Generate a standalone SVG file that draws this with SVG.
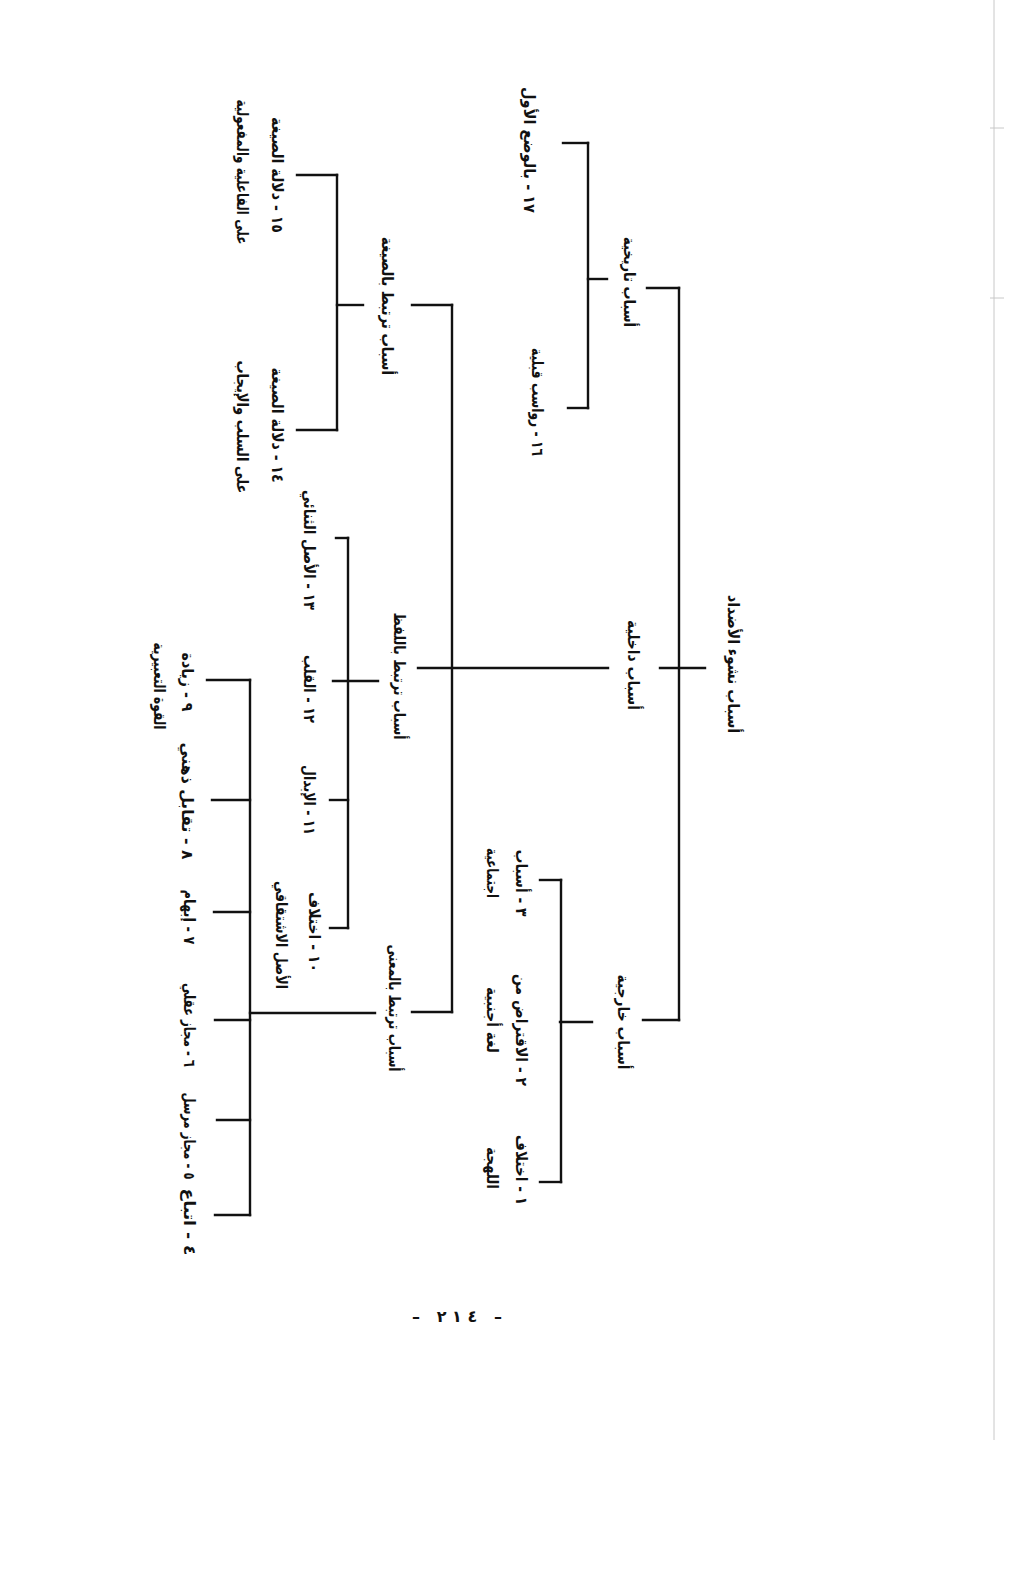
<svg xmlns="http://www.w3.org/2000/svg" width="1024" height="1580" viewBox="0 0 1024 1580">
<style>
.t{font-family:"DejaVu Sans",sans-serif;font-size:16px;font-weight:bold;fill:#111;text-anchor:middle}
.c line{stroke:#111;stroke-width:2.4;stroke-linecap:square}
.edge{stroke:#c8c8c8;stroke-width:1}
</style>
<rect width="1024" height="1580" fill="#fff"/>
<line class="edge" x1="994" y1="0" x2="994" y2="1440"/>
<line class="edge" x1="990" y1="128" x2="1004" y2="128"/>
<line class="edge" x1="990" y1="298" x2="1004" y2="298"/>

<g id="connectors" class="c">
  <line x1="679" y1="288" x2="679" y2="1020"/>
  <line x1="647" y1="288" x2="679" y2="288"/>
  <line x1="643" y1="1020" x2="679" y2="1020"/>
  <line x1="660" y1="668" x2="705" y2="668"/>
  <line x1="588" y1="279" x2="607" y2="279"/>
  <line x1="588" y1="143" x2="588" y2="408"/>
  <line x1="563" y1="143" x2="588" y2="143"/>
  <line x1="568" y1="408" x2="588" y2="408"/>
  <line x1="418" y1="668" x2="608" y2="668"/>
  <line x1="452" y1="305" x2="452" y2="1012"/>
  <line x1="412" y1="305" x2="452" y2="305"/>
  <line x1="412" y1="1012" x2="452" y2="1012"/>
  <line x1="337" y1="305" x2="363" y2="305"/>
  <line x1="337" y1="175" x2="337" y2="430"/>
  <line x1="297" y1="175" x2="337" y2="175"/>
  <line x1="297" y1="430" x2="337" y2="430"/>
  <line x1="333" y1="681" x2="378" y2="681"/>
  <line x1="348" y1="538" x2="348" y2="928"/>
  <line x1="336" y1="538" x2="348" y2="538"/>
  <line x1="330" y1="800" x2="348" y2="800"/>
  <line x1="330" y1="928" x2="348" y2="928"/>
  <line x1="250" y1="1013" x2="375" y2="1013"/>
  <line x1="250" y1="680" x2="250" y2="1215"/>
  <line x1="207" y1="680" x2="250" y2="680"/>
  <line x1="212" y1="800" x2="250" y2="800"/>
  <line x1="214" y1="912" x2="250" y2="912"/>
  <line x1="215" y1="1020" x2="250" y2="1020"/>
  <line x1="217" y1="1120" x2="250" y2="1120"/>
  <line x1="215" y1="1215" x2="250" y2="1215"/>
  <line x1="560" y1="1022" x2="592" y2="1022"/>
  <line x1="561" y1="880" x2="561" y2="1182"/>
  <line x1="540" y1="880" x2="561" y2="880"/>
  <line x1="540" y1="1182" x2="561" y2="1182"/>
</g>

<g id="root"><text class="t" transform="translate(734,664) rotate(90)" dy="0.35em" textLength="138" lengthAdjust="spacingAndGlyphs">أسباب نشوء الأضداد</text></g>
<g id="n-tarikhiya"><text class="t" transform="translate(630,282) rotate(90)" dy="0.35em" textLength="90" lengthAdjust="spacingAndGlyphs">أسباب تاريخية</text></g>
<g id="n-dakhiliya"><text class="t" transform="translate(634,665) rotate(90)" dy="0.35em" textLength="90" lengthAdjust="spacingAndGlyphs">أسباب داخلية</text></g>
<g id="n-kharijiya"><text class="t" transform="translate(624,1022) rotate(90)" dy="0.35em" textLength="95" lengthAdjust="spacingAndGlyphs">أسباب خارجية</text></g>

<g id="n17"><text class="t" transform="translate(530,150) rotate(90)" dy="0.35em" textLength="126" lengthAdjust="spacingAndGlyphs">١٧ - بالوضع الأول</text></g>
<g id="n16"><text class="t" transform="translate(538,402) rotate(90)" dy="0.35em" textLength="108" lengthAdjust="spacingAndGlyphs">١٦ - رواسب قبلية</text></g>

<g id="n-sigha"><text class="t" transform="translate(388,306) rotate(90)" dy="0.35em" textLength="138" lengthAdjust="spacingAndGlyphs">أسباب ترتبط بالصيغة</text></g>
<g id="n-lafz"><text class="t" transform="translate(400,676) rotate(90)" dy="0.35em" textLength="127" lengthAdjust="spacingAndGlyphs">أسباب ترتبط باللفظ</text></g>
<g id="n-mana"><text class="t" transform="translate(395,1008) rotate(90)" dy="0.35em" textLength="127" lengthAdjust="spacingAndGlyphs">أسباب ترتبط بالمعنى</text></g>

<g id="n15">
  <text class="t" transform="translate(278,175) rotate(90)" dy="0.35em" textLength="116" lengthAdjust="spacingAndGlyphs">١٥ - دلالة الصيغة</text>
  <text class="t" transform="translate(243,172) rotate(90)" dy="0.35em" textLength="145" lengthAdjust="spacingAndGlyphs">على الفاعلية والمفعولية</text>
</g>
<g id="n14">
  <text class="t" transform="translate(278,425) rotate(90)" dy="0.35em" textLength="115" lengthAdjust="spacingAndGlyphs">١٤ - دلالة الصيغة</text>
  <text class="t" transform="translate(243,427) rotate(90)" dy="0.35em" textLength="133" lengthAdjust="spacingAndGlyphs">على السلب والإيجاب</text>
</g>
<g id="n13"><text class="t" transform="translate(310,550) rotate(90)" dy="0.35em" textLength="120" lengthAdjust="spacingAndGlyphs">١٣ - الأصل الثنائي</text></g>
<g id="n12"><text class="t" transform="translate(310,689) rotate(90)" dy="0.35em" textLength="68" lengthAdjust="spacingAndGlyphs">١٢ - القلب</text></g>
<g id="n11"><text class="t" transform="translate(310,800) rotate(90)" dy="0.35em" textLength="70" lengthAdjust="spacingAndGlyphs">١١ - الإبدال</text></g>
<g id="n10">
  <text class="t" transform="translate(315,932) rotate(90)" dy="0.35em" textLength="80" lengthAdjust="spacingAndGlyphs">١٠ - اختلاف</text>
  <text class="t" transform="translate(282,935) rotate(90)" dy="0.35em" textLength="108" lengthAdjust="spacingAndGlyphs">الأصل الاشتقاقي</text>
</g>

<g id="n9">
  <text class="t" transform="translate(188,682) rotate(90)" dy="0.35em" textLength="59" lengthAdjust="spacingAndGlyphs">٩ - زيادة</text>
  <text class="t" transform="translate(160,686) rotate(90)" dy="0.35em" textLength="87" lengthAdjust="spacingAndGlyphs">القوة التعبيرية</text>
</g>
<g id="n8"><text class="t" transform="translate(188,801) rotate(90)" dy="0.35em" textLength="117" lengthAdjust="spacingAndGlyphs">٨ - تقابل ذهني</text></g>
<g id="n7"><text class="t" transform="translate(190,917) rotate(90)" dy="0.35em" textLength="55" lengthAdjust="spacingAndGlyphs">٧ - إبهام</text></g>
<g id="n6"><text class="t" transform="translate(190,1025) rotate(90)" dy="0.35em" textLength="84" lengthAdjust="spacingAndGlyphs">٦ - مجاز عقلي</text></g>
<g id="n5"><text class="t" transform="translate(190,1136) rotate(90)" dy="0.35em" textLength="87" lengthAdjust="spacingAndGlyphs">٥ - مجاز مرسل</text></g>
<g id="n4"><text class="t" transform="translate(190,1222) rotate(90)" dy="0.35em" textLength="67" lengthAdjust="spacingAndGlyphs">٤ - اتباع</text></g>

<g id="n3">
  <text class="t" transform="translate(522,883) rotate(90)" dy="0.35em" textLength="67" lengthAdjust="spacingAndGlyphs">٣ - أسباب</text>
  <text class="t" transform="translate(493,873) rotate(90)" dy="0.35em" textLength="50" lengthAdjust="spacingAndGlyphs">اجتماعية</text>
</g>
<g id="n2">
  <text class="t" transform="translate(522,1030) rotate(90)" dy="0.35em" textLength="112" lengthAdjust="spacingAndGlyphs">٢ - الاقتراض من</text>
  <text class="t" transform="translate(493,1020) rotate(90)" dy="0.35em" textLength="66" lengthAdjust="spacingAndGlyphs">لغة أجنبية</text>
</g>
<g id="n1">
  <text class="t" transform="translate(522,1170) rotate(90)" dy="0.35em" textLength="70" lengthAdjust="spacingAndGlyphs">١ - اختلاف</text>
  <text class="t" transform="translate(493,1168) rotate(90)" dy="0.35em" textLength="42" lengthAdjust="spacingAndGlyphs">اللهجة</text>
</g>

<g id="page-number"><text class="t" x="457" y="1322" font-size="22" textLength="90" lengthAdjust="spacing">– ٢١٤ –</text></g>
</svg>
